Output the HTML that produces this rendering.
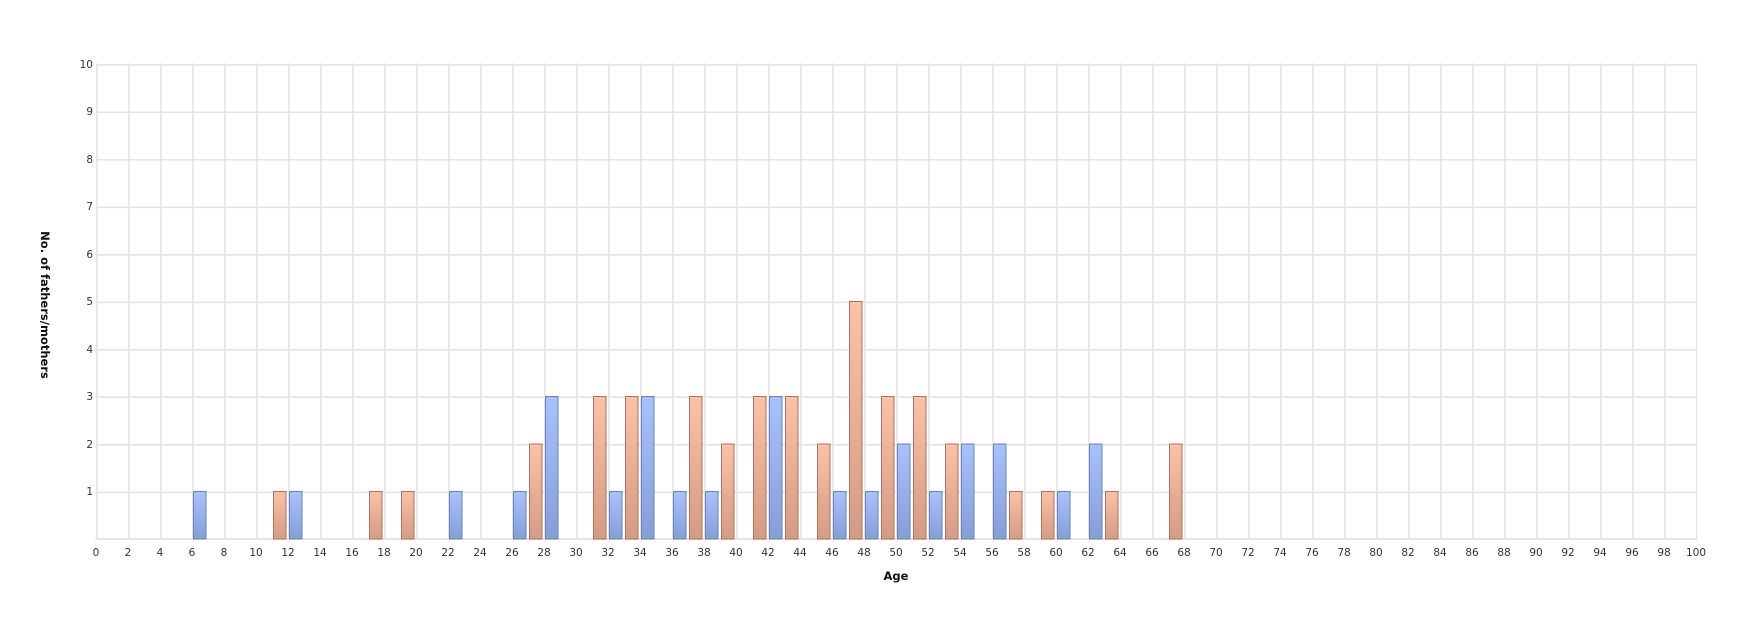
<!DOCTYPE html>
<html><head><meta charset="utf-8"><style>html,body{margin:0;padding:0;background:#fff}svg{display:block}</style></head>
<body>
<svg width="1760" height="628" viewBox="0 0 1760 628" xmlns="http://www.w3.org/2000/svg" font-family="DejaVu Sans, Liberation Sans, sans-serif">
<defs>
<linearGradient id="gb" x1="0" y1="0" x2="0" y2="1"><stop offset="0" stop-color="#a9c2fb"/><stop offset="1" stop-color="#889dd6"/></linearGradient>
<linearGradient id="go" x1="0" y1="0" x2="0" y2="1"><stop offset="0" stop-color="#fdc1a6"/><stop offset="1" stop-color="#d39c86"/></linearGradient>
<pattern id="gv" x="96" y="0" width="32" height="10" patternUnits="userSpaceOnUse"><rect x="0" y="0" width="1.6" height="10" fill="#e4e4e4"/></pattern>
<pattern id="gh" x="0" y="64" width="10" height="47.5" patternUnits="userSpaceOnUse"><rect x="0" y="0" width="10" height="1.6" fill="#e4e4e4"/></pattern>
</defs>
<rect x="95.2" y="63.2" width="1602" height="476" fill="url(#gv)"/>
<rect x="96" y="63.2" width="1601" height="476" fill="url(#gh)"/>
<rect x="95.2" y="538.2" width="1602" height="1.6" fill="#dcdcdc"/>
<g fill="url(#gb)" stroke="#6b80b9" stroke-width="1">
<rect x="193.5" y="491.5" width="12.5" height="47.5"/>
<rect x="289.5" y="491.5" width="12.5" height="47.5"/>
<rect x="449.5" y="491.5" width="12.5" height="47.5"/>
<rect x="513.5" y="491.5" width="12.5" height="47.5"/>
<rect x="545.5" y="396.5" width="12.5" height="142.5"/>
<rect x="609.5" y="491.5" width="12.5" height="47.5"/>
<rect x="641.5" y="396.5" width="12.5" height="142.5"/>
<rect x="673.5" y="491.5" width="12.5" height="47.5"/>
<rect x="705.5" y="491.5" width="12.5" height="47.5"/>
<rect x="769.5" y="396.5" width="12.5" height="142.5"/>
<rect x="833.5" y="491.5" width="12.5" height="47.5"/>
<rect x="865.5" y="491.5" width="12.5" height="47.5"/>
<rect x="897.5" y="444" width="12.5" height="95"/>
<rect x="929.5" y="491.5" width="12.5" height="47.5"/>
<rect x="961.5" y="444" width="12.5" height="95"/>
<rect x="993.5" y="444" width="12.5" height="95"/>
<rect x="1057.5" y="491.5" width="12.5" height="47.5"/>
<rect x="1089.5" y="444" width="12.5" height="95"/>
</g>
<g fill="url(#go)" stroke="#a87262" stroke-width="1">
<rect x="273.5" y="491.5" width="12.5" height="47.5"/>
<rect x="369.5" y="491.5" width="12.5" height="47.5"/>
<rect x="401.5" y="491.5" width="12.5" height="47.5"/>
<rect x="529.5" y="444" width="12.5" height="95"/>
<rect x="593.5" y="396.5" width="12.5" height="142.5"/>
<rect x="625.5" y="396.5" width="12.5" height="142.5"/>
<rect x="689.5" y="396.5" width="12.5" height="142.5"/>
<rect x="721.5" y="444" width="12.5" height="95"/>
<rect x="753.5" y="396.5" width="12.5" height="142.5"/>
<rect x="785.5" y="396.5" width="12.5" height="142.5"/>
<rect x="817.5" y="444" width="12.5" height="95"/>
<rect x="849.5" y="301.5" width="12.5" height="237.5"/>
<rect x="881.5" y="396.5" width="12.5" height="142.5"/>
<rect x="913.5" y="396.5" width="12.5" height="142.5"/>
<rect x="945.5" y="444" width="12.5" height="95"/>
<rect x="1009.5" y="491.5" width="12.5" height="47.5"/>
<rect x="1041.5" y="491.5" width="12.5" height="47.5"/>
<rect x="1105.5" y="491.5" width="12.5" height="47.5"/>
<rect x="1169.5" y="444" width="12.5" height="95"/>
</g>
<g font-size="10.5" fill="#333" text-anchor="end">
<text x="93" y="495">1</text><text x="93" y="448">2</text><text x="93" y="400">3</text><text x="93" y="353">4</text><text x="93" y="305">5</text><text x="93" y="258">6</text><text x="93" y="210">7</text><text x="93" y="163">8</text><text x="93" y="115">9</text><text x="93" y="68">10</text>
</g>
<g font-size="10.5" fill="#333" text-anchor="middle">
<text x="96" y="556">0</text><text x="128" y="556">2</text><text x="160" y="556">4</text><text x="192" y="556">6</text><text x="224" y="556">8</text><text x="256" y="556">10</text><text x="288" y="556">12</text><text x="320" y="556">14</text><text x="352" y="556">16</text><text x="384" y="556">18</text><text x="416" y="556">20</text><text x="448" y="556">22</text><text x="480" y="556">24</text><text x="512" y="556">26</text><text x="544" y="556">28</text><text x="576" y="556">30</text><text x="608" y="556">32</text><text x="640" y="556">34</text><text x="672" y="556">36</text><text x="704" y="556">38</text><text x="736" y="556">40</text><text x="768" y="556">42</text><text x="800" y="556">44</text><text x="832" y="556">46</text><text x="864" y="556">48</text><text x="896" y="556">50</text><text x="928" y="556">52</text><text x="960" y="556">54</text><text x="992" y="556">56</text><text x="1024" y="556">58</text><text x="1056" y="556">60</text><text x="1088" y="556">62</text><text x="1120" y="556">64</text><text x="1152" y="556">66</text><text x="1184" y="556">68</text><text x="1216" y="556">70</text><text x="1248" y="556">72</text><text x="1280" y="556">74</text><text x="1312" y="556">76</text><text x="1344" y="556">78</text><text x="1376" y="556">80</text><text x="1408" y="556">82</text><text x="1440" y="556">84</text><text x="1472" y="556">86</text><text x="1504" y="556">88</text><text x="1536" y="556">90</text><text x="1568" y="556">92</text><text x="1600" y="556">94</text><text x="1632" y="556">96</text><text x="1664" y="556">98</text><text x="1696" y="556">100</text>
</g>
<text x="896" y="580" font-size="11.5" font-weight="bold" text-anchor="middle" fill="#111">Age</text>
<text transform="translate(41,305) rotate(90)" font-size="11.5" font-weight="bold" text-anchor="middle" fill="#111">No. of fathers/mothers</text>
</svg>
</body></html>
